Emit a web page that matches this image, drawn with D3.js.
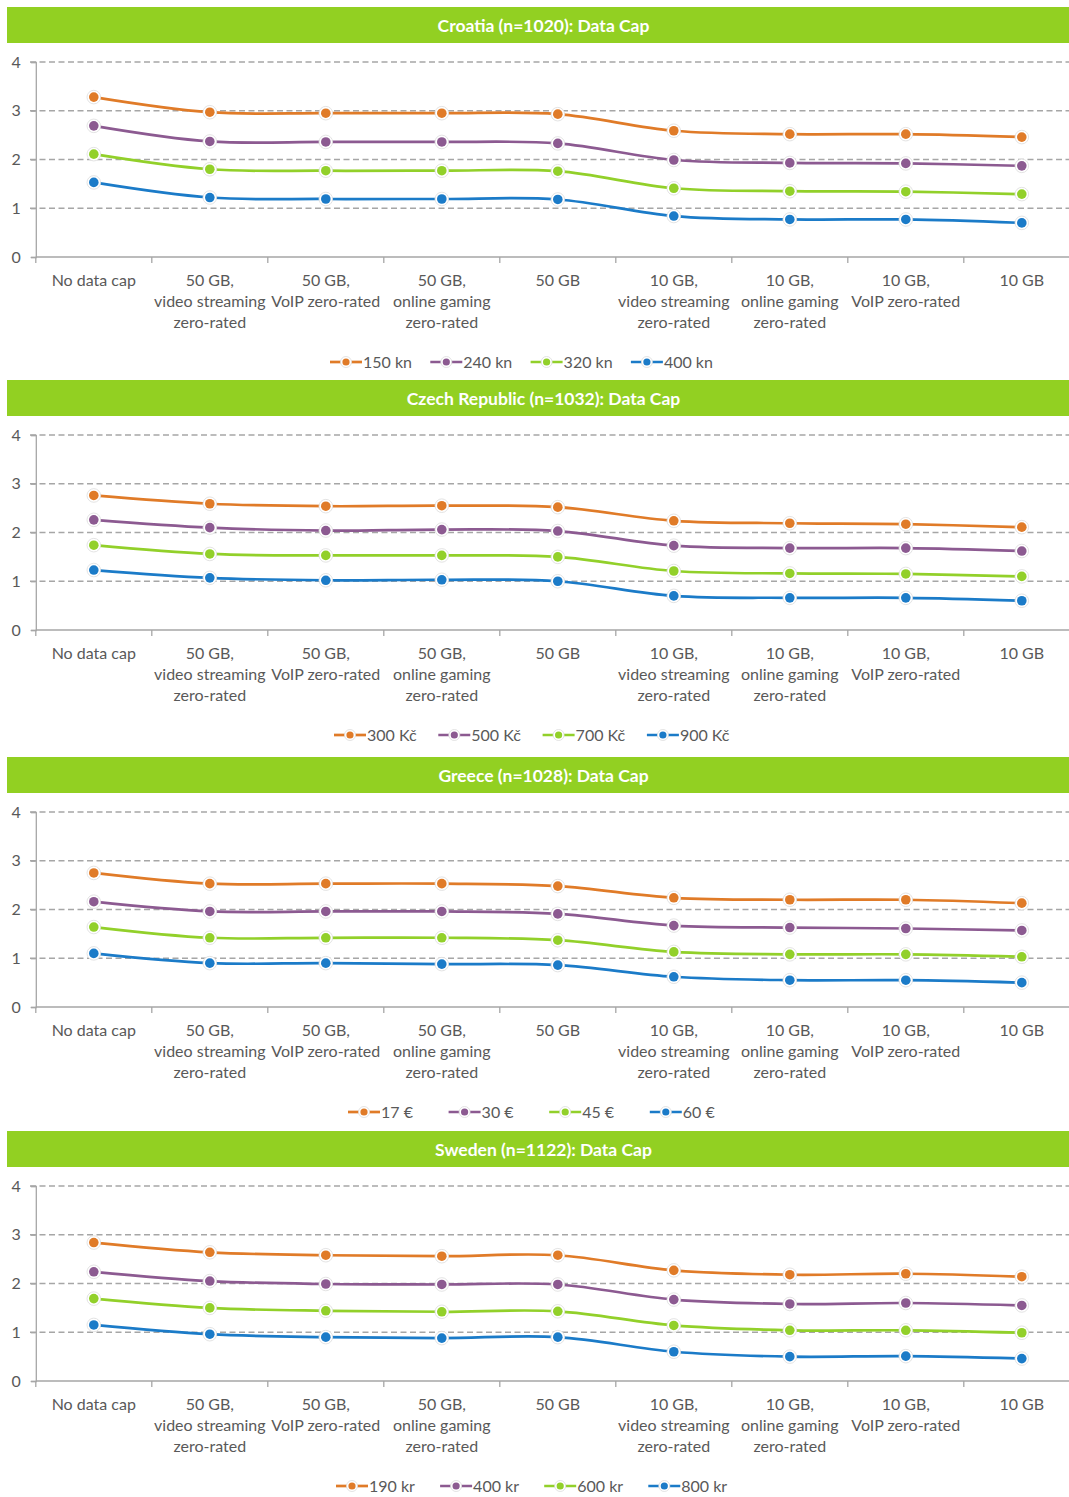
<!DOCTYPE html>
<html>
<head>
<meta charset="utf-8">
<script src="https://cdn.jsdelivr.net/npm/d3@7"></script>
<style>
  body { margin: 0; background: #fff; }
  svg { display: block; font-family: Lato, "Open Sans", sans-serif; }
</style>
</head>
<body>
<svg id="chart" width="1069" height="1497"></svg>
<script>
// x categories (each entry is the wrapped label)
var categories = [
    ["No data cap"],
    ["50 GB,", "video streaming", "zero-rated"],
    ["50 GB,", "VoIP zero-rated"],
    ["50 GB,", "online gaming", "zero-rated"],
    ["50 GB"],
    ["10 GB,", "video streaming", "zero-rated"],
    ["10 GB,", "online gaming", "zero-rated"],
    ["10 GB,", "VoIP zero-rated"],
    ["10 GB"]
];
var yTicks = [0, 1, 2, 3, 4];
var seriesColors = ["#e07b28", "#8c5a91", "#92d02a", "#1b7bc8"];

var panelTitles = [
    "Croatia (n=1020): Data Cap",
    "Czech Republic (n=1032): Data Cap",
    "Greece (n=1028): Data Cap",
    "Sweden (n=1122): Data Cap"
];

var croatiaPrices = ["150 kn", "240 kn", "320 kn", "400 kn"];
var croatiaValues = [
    [3.28, 2.97, 2.95, 2.95, 2.93, 2.59, 2.52, 2.52, 2.46],
    [2.69, 2.37, 2.36, 2.36, 2.33, 1.99, 1.93, 1.92, 1.87],
    [2.11, 1.80, 1.77, 1.77, 1.76, 1.41, 1.35, 1.34, 1.29],
    [1.53, 1.22, 1.19, 1.19, 1.18, 0.84, 0.77, 0.77, 0.70]
];

var czechPrices = ["300 Kč", "500 Kč", "700 Kč", "900 Kč"];
var czechValues = [
    [2.76, 2.59, 2.54, 2.55, 2.52, 2.24, 2.19, 2.17, 2.11],
    [2.26, 2.10, 2.04, 2.06, 2.03, 1.73, 1.68, 1.68, 1.62],
    [1.74, 1.56, 1.53, 1.53, 1.50, 1.21, 1.16, 1.15, 1.10],
    [1.23, 1.07, 1.02, 1.03, 1.00, 0.70, 0.66, 0.66, 0.60]
];

var greecePrices = ["17 €", "30 €", "45 €", "60 €"];
var greeceValues = [
    [2.75, 2.53, 2.53, 2.53, 2.48, 2.24, 2.20, 2.20, 2.13],
    [2.16, 1.96, 1.96, 1.96, 1.91, 1.67, 1.63, 1.61, 1.57],
    [1.64, 1.42, 1.42, 1.42, 1.37, 1.13, 1.08, 1.08, 1.03],
    [1.10, 0.90, 0.90, 0.88, 0.86, 0.62, 0.55, 0.55, 0.50]
];

var swedenPrices = ["190 kr", "400 kr", "600 kr", "800 kr"];
var swedenValues = [
    [2.84, 2.64, 2.58, 2.56, 2.58, 2.27, 2.18, 2.20, 2.14],
    [2.24, 2.05, 1.99, 1.98, 1.98, 1.67, 1.58, 1.60, 1.55],
    [1.69, 1.50, 1.44, 1.42, 1.43, 1.14, 1.04, 1.04, 0.99],
    [1.15, 0.96, 0.90, 0.88, 0.90, 0.60, 0.50, 0.51, 0.46]
];

// layout per panel: top of title bar, legend start and slot width
var panels = [
    {title: panelTitles[0], prices: croatiaPrices, values: croatiaValues, top: 7,    legX: 330, slot: 100.3},
    {title: panelTitles[1], prices: czechPrices,   values: czechValues,   top: 380,  legX: 334, slot: 104.3},
    {title: panelTitles[2], prices: greecePrices,  values: greeceValues,  top: 757,  legX: 348, slot: 100.6},
    {title: panelTitles[3], prices: swedenPrices,  values: swedenValues,  top: 1131, legX: 336, slot: 104.1}
];

var svg = d3.select("#chart");
svg.append("rect").attr("width", 1069).attr("height", 1497).attr("fill", "#fff");

var textColor = "#595959",
    gridColor = "#a6a6a6";

var x = d3.scaleBand()
    .domain(d3.range(categories.length))
    .range([35.8, 35.8 + 116 * categories.length])
    .paddingInner(0).paddingOuter(0);

var y = d3.scaleLinear().domain([0, 4]).range([250, 55]);

var line = d3.line()
    .x(function(d, i) { return x(i) + x.bandwidth() / 2; })
    .y(function(d) { return y(d); })
    .curve(d3.curveCatmullRom.alpha(0.5));

panels.forEach(function(p) {
    var g = svg.append("g").attr("transform", "translate(0," + p.top + ")");

    // title bar
    g.append("rect")
        .attr("x", 7).attr("y", 0)
        .attr("width", 1073).attr("height", 36)
        .attr("fill", "#92d022");
    g.append("text")
        .attr("x", 543.5).attr("y", 24.5)
        .attr("text-anchor", "middle")
        .attr("fill", "#fff")
        .attr("font-weight", "bold")
        .attr("font-size", "17.5px")
        .text(p.title);

    // gridlines (dashed)
    g.append("g").selectAll("line")
        .data(yTicks.filter(function(t) { return t > 0; }))
        .enter().append("line")
        .attr("x1", 30).attr("x2", 1080)
        .attr("y1", function(d) { return y(d); })
        .attr("y2", function(d) { return y(d); })
        .attr("stroke", gridColor)
        .attr("stroke-width", 1.5)
        .attr("stroke-dasharray", "6,3.5");

    // y axis
    var yAxis = d3.axisLeft(y).tickValues(yTicks).tickFormat(d3.format("d")).tickSize(5).tickPadding(10);
    var ya = g.append("g").attr("transform", "translate(35.8,0)").call(yAxis);
    ya.select(".domain").attr("stroke", gridColor).attr("stroke-width", 1.3);
    ya.selectAll(".tick line").attr("stroke", gridColor).attr("stroke-width", 1.3);
    ya.selectAll(".tick text")
        .attr("fill", textColor)
        .attr("font-size", "16px")
        .attr("font-family", "Lato, sans-serif");

    // x axis line and ticks
    g.append("line")
        .attr("x1", 35.8).attr("x2", 1080)
        .attr("y1", y(0)).attr("y2", y(0))
        .attr("stroke", gridColor).attr("stroke-width", 1.3);
    g.append("g").selectAll("line")
        .data(d3.range(categories.length))
        .enter().append("line")
        .attr("x1", function(d) { return x(d); })
        .attr("x2", function(d) { return x(d); })
        .attr("y1", y(0)).attr("y2", y(0) + 6)
        .attr("stroke", gridColor).attr("stroke-width", 1.3);

    // x labels
    var lab = g.append("g").selectAll("text")
        .data(categories)
        .enter().append("text")
        .attr("text-anchor", "middle")
        .attr("fill", textColor)
        .attr("font-size", "16px")
        .attr("x", function(d, i) { return x(i) + x.bandwidth() / 2; });
    lab.selectAll("tspan")
        .data(function(d) { return d; })
        .enter().append("tspan")
        .attr("x", function() { return this.parentNode.getAttribute("x"); })
        .attr("y", function(d, i) { return 278.5 + i * 21.3; })
        .text(function(d) { return d; });

    // series lines
    p.values.forEach(function(vals, si) {
        g.append("path")
            .datum(vals)
            .attr("d", line)
            .attr("fill", "none")
            .attr("stroke", seriesColors[si])
            .attr("stroke-width", 2.7);
    });
    p.values.forEach(function(vals, si) {
        var mg = g.append("g");
        mg.selectAll(".halo")
            .data(vals).enter().append("circle")
            .attr("cx", function(d, i) { return x(i) + x.bandwidth() / 2; })
            .attr("cy", function(d) { return y(d); })
            .attr("r", 6.8)
            .attr("fill", "#fff")
            .attr("stroke", "#dcdcdc")
            .attr("stroke-width", 0.8);
        mg.selectAll(".dot")
            .data(vals).enter().append("circle")
            .attr("cx", function(d, i) { return x(i) + x.bandwidth() / 2; })
            .attr("cy", function(d) { return y(d); })
            .attr("r", 4.8)
            .attr("fill", seriesColors[si]);
    });

    // legend
    var items = g.append("g").selectAll("g")
        .data(p.prices).enter().append("g")
        .attr("transform", function(d, i) { return "translate(" + (p.legX + i * p.slot) + ",0)"; });
    items.append("line")
        .attr("x1", 0).attr("x2", 32)
        .attr("y1", 355).attr("y2", 355)
        .attr("stroke", function(d, i) { return seriesColors[i]; })
        .attr("stroke-width", 2.7);
    items.append("circle")
        .attr("cx", 16).attr("cy", 355).attr("r", 5.5)
        .attr("fill", "#fff").attr("stroke", "#dcdcdc").attr("stroke-width", 0.8);
    items.append("circle")
        .attr("cx", 16).attr("cy", 355).attr("r", 3.6)
        .attr("fill", function(d, i) { return seriesColors[i]; });
    items.append("text")
        .attr("x", 33).attr("y", 355 + 5.5)
        .attr("fill", textColor)
        .attr("font-size", "16px")
        .text(function(d) { return d; });
});
</script>
</body>
</html>
